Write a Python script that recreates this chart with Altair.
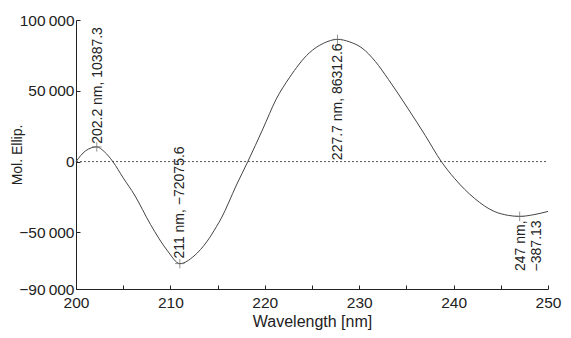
import altair as alt
import pandas as pd

# Curve
wavelength = [200.0, 201.0, 202.2, 203.0, 203.9, 205.0, 206.2, 207.9, 209.7, 211.0,
              212.5, 213.9, 214.9, 215.4, 217.0, 218.2, 219.8, 221.2, 222.6, 224.7,
              226.2, 227.7, 229.0, 230.3, 231.7, 233.1, 235.2, 237.0, 238.7, 240.1,
              242.2, 244.3, 245.8, 247.0, 248.5, 250.0]
ellip = [0, 7500, 10387, 7000, 0, -11500, -23600, -44500, -63100, -72075,
         -66700, -56200, -45700, -39900, -16500, 0, 23100, 44000, 59200, 76700,
         83500, 86312, 84500, 80200, 70800, 58000, 37100, 18400, 0, -11900,
         -25900, -35200, -38000, -38713, -37500, -35200]

# Annotated extrema
peak_wl = [202.2, 211.0, 227.7, 247.0]
peak_val = [10387.3, -72075.6, 86312.6, -38713]
peak_text = ["202.2 nm, 10387.3", "211 nm, \u221272075.6", "227.7 nm, 86312.6", "247 nm,\n\u2212387.13"]

x_ticks = [200, 205, 210, 215, 220, 225, 230, 235, 240, 245, 250]
x_labels = ["200", "", "210", "", "220", "", "230", "", "240", "", "250"]
y_ticks = [-90000, -75000, -50000, -25000, 0, 25000, 50000, 75000, 100000]
y_labels = ["\u221290\u2009000", "", "\u221250\u2009000", "", "0", "", "50\u2009000", "", "100\u2009000"]


def label_expr(vals, labs):
    expr = "''"
    for v, l in zip(vals, labs):
        expr = f"datum.value == {v} ? '{l}' : ({expr})"
    return expr


curve = pd.DataFrame({"wl": wavelength, "v": ellip})
peaks = pd.DataFrame({"wl": peak_wl, "v": peak_val, "t": peak_text})
zero = pd.DataFrame({"a": [x_ticks[0]], "b": [x_ticks[-1]], "y": [0]})

FONT = "Liberation Sans"
TXT = "#222222"
W, H = 472, 269

xscale = alt.Scale(domain=[200, 250], nice=False, zero=False)
yscale = alt.Scale(domain=[-90000, 100000], nice=False, zero=False)

xaxis = alt.Axis(values=x_ticks, labelExpr=label_expr(x_ticks, x_labels), grid=False,
                 tickSize={"expr": "-4"}, labelPadding=10, title="Wavelength [nm]",
                 titleX=W / 2, titleY=37.5, titleBaseline="alphabetic", titleAlign="center",
                 titleFontSize=16, labelFlush=False, labelOverlap=False)
yaxis = alt.Axis(values=y_ticks, labelExpr=label_expr(y_ticks, y_labels), grid=False,
                 tickSize={"expr": "-4"}, labelPadding=6, title="Mol. Ellip.",
                 titleX=-59, titleY=H / 2, titleAngle=270, titleBaseline="middle",
                 titleAlign="center", titleFontSize=14, labelOverlap=False)

zero_line = alt.Chart(zero).mark_rule(color="#555555", strokeDash=[2, 2], strokeWidth=1).encode(
    x=alt.X("a:Q", scale=xscale, axis=xaxis),
    x2="b:Q",
    y=alt.Y("y:Q", scale=yscale, axis=yaxis),
)

line = alt.Chart(curve).mark_line(color="#444444", strokeWidth=1, interpolate="monotone").encode(
    x=alt.X("wl:Q", scale=xscale),
    y=alt.Y("v:Q", scale=yscale),
)

marks = alt.Chart(peaks).mark_point(shape="M-1,0L1,0M0,-1L0,1", filled=False, size=90,
                                    color="#666666", strokeWidth=1).encode(
    x=alt.X("wl:Q", scale=xscale),
    y=alt.Y("v:Q", scale=yscale),
)

base_txt = alt.Chart(peaks).encode(
    x=alt.X("wl:Q", scale=xscale),
    y=alt.Y("v:Q", scale=yscale),
    text="t:N",
)

lab1 = base_txt.transform_filter(alt.datum.wl == 202.2).mark_text(
    angle=270, align="left", baseline="middle", dx=3, dy=1, font=FONT, fontSize=14, color=TXT)
lab2 = base_txt.transform_filter(alt.datum.wl == 211).mark_text(
    angle=270, align="left", baseline="middle", dx=5, dy=0, font=FONT, fontSize=14, color=TXT)
lab3 = base_txt.transform_filter(alt.datum.wl == 227.7).mark_text(
    angle=270, align="right", baseline="middle", dx=-4, dy=1, font=FONT, fontSize=14, color=TXT)
lab4 = base_txt.transform_filter(alt.datum.wl == 247).mark_text(
    angle=270, align="right", baseline="top", dx=-4, dy=-6, font=FONT, fontSize=14,
    color=TXT, lineBreak="\n", lineHeight=16)

chart = alt.layer(zero_line, line, marks, lab1, lab2, lab3, lab4).properties(
    width=W, height=H,
    autosize=alt.AutoSizeParams(type="none"),
    padding={"left": 68, "top": 12, "right": 15, "bottom": 41},
).configure_view(stroke="transparent").configure_axis(
    domainColor="#222222", tickColor="#222222", labelColor=TXT, titleColor=TXT,
    labelFont=FONT, titleFont=FONT, labelFontSize=15.5,
    titleFontWeight="normal", domainWidth=1, tickWidth=1
)

chart.save("out.html", embed_options={"renderer": "svg", "actions": False})
